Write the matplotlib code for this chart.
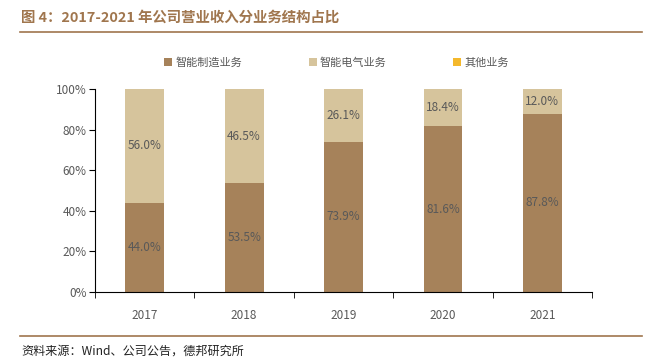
import numpy as np
import matplotlib
matplotlib.use('Agg')
import matplotlib.pyplot as plt

plt.rcParams['font.family'] = ['Noto Sans CJK SC', 'DejaVu Sans']

# Data
years = ["2017", "2018", "2019", "2020", "2021"]
manufacturing = [44.0, 53.5, 73.9, 81.6, 87.8]
electrical = [56.0, 46.5, 26.1, 18.4, 12.0]
other = [0.0, 0.0, 0.0, 0.0, 0.2]
series_names = ["智能制造业务", "智能电气业务", "其他业务"]

title = "图 4：2017-2021 年公司营业收入分业务结构占比"
source = "资料来源：Wind、公司公告，德邦研究所"

colors = ["#a6825a", "#d6c49c", "#f4b82c"]
text_gray = "#595959"
brown = "#a0764e"

fig = plt.figure(figsize=(6.55, 3.63), dpi=100)
ax = fig.add_axes([0.145, 0.196, 0.759, 0.559])

x = np.arange(len(years))
w = 0.39
ax.bar(x, manufacturing, w, color=colors[0], label=series_names[0])
ax.bar(x, electrical, w, bottom=manufacturing, color=colors[1], label=series_names[1])
bottom3 = np.array(manufacturing) + np.array(electrical)
ax.bar(x, other, w, bottom=bottom3, color=colors[2], label=series_names[2])

for i in range(len(years)):
    ax.text(x[i], manufacturing[i] / 2, f"{manufacturing[i]:.1f}%", ha="center",
            va="center", fontsize=8.5, color=text_gray)
    ax.text(x[i], manufacturing[i] + electrical[i] / 2, f"{electrical[i]:.1f}%",
            ha="center", va="center", fontsize=8.5, color=text_gray)

ax.set_xlim(-0.5, len(years) - 0.5)
ax.set_ylim(0, 100)
ax.set_yticks(np.arange(0, 101, 20))
ax.set_yticklabels([f"{v}%" for v in range(0, 101, 20)])
ax.set_xticks(x)
ax.set_xticklabels(years)
ax.set_xticks(np.arange(-0.5, len(years)), minor=True)
ax.tick_params(axis="x", which="major", length=0, pad=12, labelsize=8.5, labelcolor=text_gray)
ax.tick_params(axis="x", which="minor", length=4, direction="out", color="black")
ax.tick_params(axis="y", length=4, direction="out", labelsize=8.5, labelcolor=text_gray, pad=2)

for s in ["top", "right"]:
    ax.spines[s].set_visible(False)
ax.spines["left"].set_color("black")
ax.spines["bottom"].set_color("black")

ax.legend(loc="lower center", bbox_to_anchor=(0.486, 1.055), ncol=3, frameon=False,
          fontsize=8, handlelength=0.7, handleheight=0.7, handletextpad=0.3,
          columnspacing=6.0, labelcolor=text_gray)

fig.text(0.032, 0.95, title, fontsize=10.4, fontweight="bold", color=brown, va="center")
fig.add_artist(plt.Line2D([0.03, 0.98], [0.913, 0.913], color=brown, lw=1.2))
fig.add_artist(plt.Line2D([0.03, 0.98], [0.074, 0.074], color=brown, lw=1.2))
fig.text(0.032, 0.033, source, fontsize=8.7, color="#222222", va="center")

fig.savefig("out.png", dpi=100)
